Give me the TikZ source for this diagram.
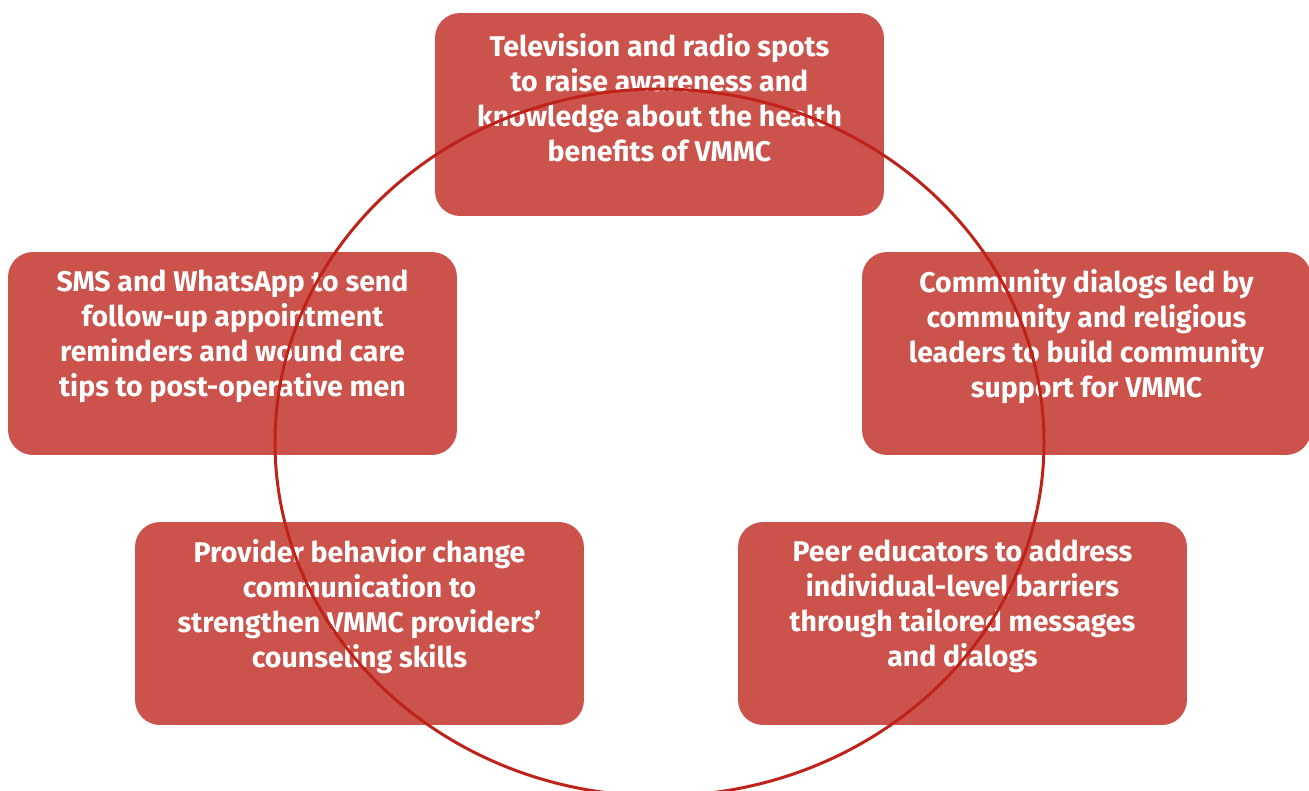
\documentclass[tikz,border=0pt]{standalone}
\usepackage{fontspec}
\setsansfont{Fira Sans}
\usepackage{tikz}
\definecolor{boxred}{HTML}{CB534B}
\definecolor{ringred}{HTML}{BF2219}

\begin{document}
\begin{tikzpicture}[x=0.02cm,y=-0.02cm,
    box/.style={fill=boxred,rounded corners=0.5cm,inner sep=0pt,
                minimum width=8.98cm,minimum height=4.06cm},
    txt/.style={text=white,align=center,
                font=\sffamily\bfseries\fontsize{16.2}{19.9}\selectfont}]
    \useasboundingbox (0,0) rectangle (1309,791);
    % the five boxes
    \node [box] (tv)   at (659.5,114.5) {};
    \node [box] (sms)  at (232.5,353.5) {};
    \node [box] (comm) at (1086.5,353.5) {};
    \node [box] (prov) at (359.5,623.5) {};
    \node [box] (peer) at (962.5,623.5) {};
    % their texts, set a bit above the middle
    \node [txt] (tvtext)   at ([yshift=0.34cm]tv.center)
        {Television and radio spots\\to raise awareness and\\knowledge about the health\\benefits of VMMC};
    \node [txt] (smstext)  at ([yshift=0.34cm]sms.center)
        {SMS and WhatsApp to send\\follow-up appointment\\reminders and wound care\\tips to post-operative men};
    \node [txt] (commtext) at ([yshift=0.34cm]comm.center)
        {Community dialogs led by\\community and religious\\leaders to build community\\support for VMMC};
    \node [txt] (provtext) at ([yshift=0.34cm]prov.center)
        {Provider behavior change\\communication to\\strengthen VMMC providers’\\counseling skills};
    \node [txt] (peertext) at ([yshift=0.34cm]peer.center)
        {Peer educators to address\\individual-level barriers\\through tailored messages\\and dialogs};
    % the ring over the boxes
    \draw [ringred,line width=1.7pt] (659.5,442.5) ellipse [x radius=384.5, y radius=353.5];
\end{tikzpicture}
\end{document}
